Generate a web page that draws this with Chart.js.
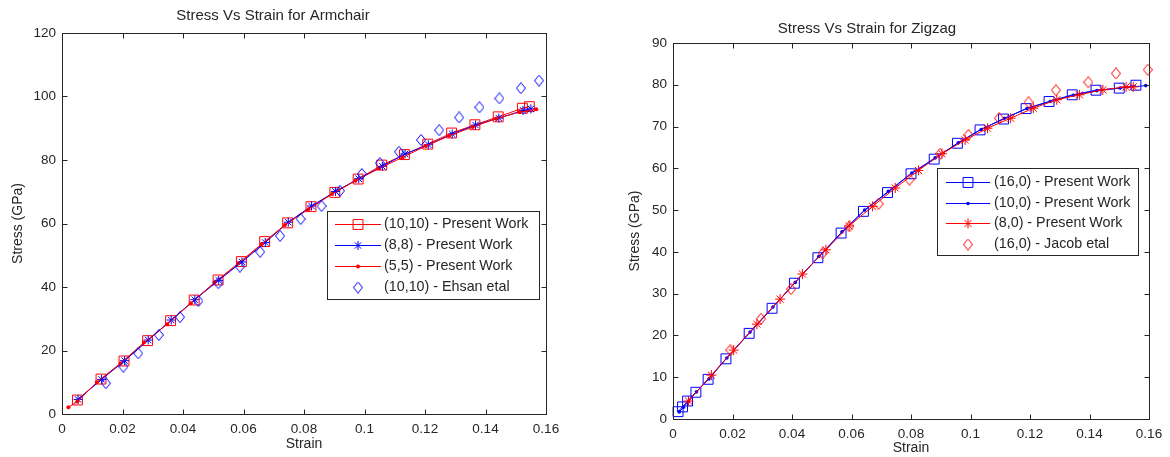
<!DOCTYPE html>
<html>
<head>
<meta charset="utf-8">
<script src="https://cdn.jsdelivr.net/npm/chart.js@4.4.1/dist/chart.umd.min.js"></script>
<style>
  body { margin: 0; background: #fff; }
  canvas { position: absolute; top: 0; }
  #armchair { left: 0; }
  #zigzag { left: 585px; }
</style>
</head>
<body>
<canvas id="armchair" width="585" height="457"></canvas>
<canvas id="zigzag" width="585" height="457"></canvas>
<script>
// axis ticks
const strainTicks = [0, 0.02, 0.04, 0.06, 0.08, 0.1, 0.12, 0.14, 0.16];
const armchairStressTicks = [0, 20, 40, 60, 80, 100, 120];
const zigzagStressTicks = [0, 10, 20, 30, 40, 50, 60, 70, 80, 90];

// Armchair tubes
const ac1010Strain = [0.0051, 0.0129, 0.0205, 0.0283, 0.0359, 0.0437, 0.0516, 0.0593, 0.0670, 0.0746, 0.0823, 0.0902, 0.0979, 0.1057, 0.1132, 0.1209, 0.1288, 0.1365, 0.1442, 0.1522, 0.1545];
const ac1010Stress = [4.4, 11.0, 16.7, 23.1, 29.4, 35.9, 42.2, 48.0, 54.3, 60.2, 65.3, 69.8, 74.0, 78.4, 81.7, 85.0, 88.5, 91.1, 93.6, 96.3, 96.8];

const ac88Strain = [0.0053, 0.0131, 0.0207, 0.0285, 0.0361, 0.0439, 0.0518, 0.0595, 0.0672, 0.0748, 0.0825, 0.0904, 0.0981, 0.1059, 0.1134, 0.1211, 0.1290, 0.1367, 0.1444, 0.1524, 0.1550];
const ac88Stress = [4.6, 10.9, 16.8, 23.3, 29.6, 36.0, 42.1, 47.9, 54.0, 60.4, 65.5, 70.1, 74.1, 78.0, 81.9, 84.8, 88.2, 91.0, 93.2, 95.6, 96.1];

const ac55Strain = [0.0021, 0.0051, 0.0115, 0.0194, 0.0271, 0.0348, 0.0426, 0.0504, 0.0583, 0.0660, 0.0737, 0.0815, 0.0893, 0.0970, 0.1048, 0.1125, 0.1203, 0.1280, 0.1358, 0.1435, 0.1513, 0.1568];
const ac55Stress = [2.1, 3.9, 10.0, 16.0, 22.5, 28.3, 34.9, 41.4, 47.5, 53.5, 59.5, 64.5, 69.3, 73.5, 77.3, 80.8, 84.4, 87.6, 90.4, 93.0, 95.1, 96.0];

const ehsanStrain = [0.0145, 0.0203, 0.0252, 0.0320, 0.0390, 0.0451, 0.0517, 0.0588, 0.0655, 0.0721, 0.0789, 0.0858, 0.0919, 0.0991, 0.1051, 0.1114, 0.1187, 0.1247, 0.1313, 0.1380, 0.1446, 0.1517, 0.1577];
const ehsanStress = [9.7, 14.9, 19.1, 24.9, 30.5, 35.6, 41.2, 46.4, 51.1, 56.1, 61.4, 65.5, 70.3, 75.6, 79.0, 82.6, 86.3, 89.4, 93.4, 96.6, 99.4, 102.6, 105.0];

// Zigzag tubes
const zz160Strain = [0.0017, 0.0032, 0.0049, 0.0077, 0.0118, 0.0178, 0.0256, 0.0333, 0.0408, 0.0487, 0.0565, 0.0640, 0.0721, 0.0800, 0.0878, 0.0956, 0.1032, 0.1111, 0.1187, 0.1264, 0.1342, 0.1422, 0.1500, 0.1556];
const zz160Stress = [1.75, 2.9, 4.3, 6.4, 9.5, 14.4, 20.5, 26.5, 32.5, 38.6, 44.5, 49.7, 54.2, 58.7, 62.2, 66.0, 69.2, 71.8, 74.3, 76.0, 77.6, 78.7, 79.2, 79.9];

const zz100Strain = [0.0021, 0.0035, 0.0052, 0.0079, 0.0121, 0.0181, 0.0259, 0.0336, 0.0411, 0.0490, 0.0568, 0.0644, 0.0724, 0.0803, 0.0881, 0.0959, 0.1036, 0.1114, 0.1190, 0.1268, 0.1346, 0.1425, 0.1503, 0.1589];
const zz100Stress = [1.7, 2.8, 4.2, 6.5, 9.6, 14.6, 20.8, 26.8, 32.7, 38.9, 44.8, 50.0, 54.5, 58.9, 62.5, 66.1, 69.3, 72.0, 74.3, 76.0, 77.5, 78.6, 79.2, 79.8];

const zz80Strain = [0.0052, 0.0129, 0.0204, 0.0282, 0.0360, 0.0435, 0.0514, 0.0592, 0.0671, 0.0747, 0.0825, 0.0904, 0.0982, 0.1057, 0.1135, 0.1211, 0.1290, 0.1366, 0.1445, 0.1523, 0.1547];
const zz80Stress = [4.3, 10.5, 16.5, 22.7, 28.7, 34.7, 40.5, 46.2, 50.9, 55.3, 59.5, 63.5, 66.8, 69.6, 72.0, 74.4, 76.4, 77.6, 78.8, 79.5, 79.5];

const jacobStrain = [0.0193, 0.0296, 0.0397, 0.0503, 0.0593, 0.0691, 0.0795, 0.0898, 0.0993, 0.1096, 0.1195, 0.1287, 0.1396, 0.1489, 0.1596];
const jacobStress = [16.5, 24.0, 31.1, 39.7, 46.1, 51.5, 57.3, 63.5, 68.0, 72.0, 75.8, 78.7, 80.6, 82.7, 83.6];

const RED = '#ff0000';
const BLUE = '#0000ff';
const INK = '#262626';
const FONT = '"Liberation Sans", Arial, sans-serif';

function pts(xs, ys) {
  return xs.map((x, i) => ({ x: x, y: ys[i] }));
}

// hollow diamond, taller than wide
function diamond(color) {
  const c = document.createElement('canvas');
  c.width = 10; c.height = 12;
  const g = c.getContext('2d');
  g.strokeStyle = color;
  g.lineWidth = 1;
  g.beginPath();
  g.moveTo(5, 0.5); g.lineTo(9.5, 6); g.lineTo(5, 11.5); g.lineTo(0.5, 6);
  g.closePath();
  g.stroke();
  return c;
}

function series(label, xs, ys, color, marker, size, withLine) {
  const ds = {
    label: label,
    data: pts(xs, ys),
    showLine: withLine,
    borderColor: color,
    borderWidth: 1,
    pointBorderColor: color,
    pointBorderWidth: 1,
    pointBackgroundColor: 'rgba(0,0,0,0)',
    pointStyle: marker,
    pointRadius: size,
    pointHoverRadius: 0,
    clip: false
  };
  if (marker === 'circle') { ds.pointBackgroundColor = color; ds.pointBorderWidth = 0; }
  if (marker === 'diamond') { ds.pointStyle = diamond(color); }
  return ds;
}

// box with inward ticks on all four sides
const frame = {
  id: 'frame',
  afterDraw(chart) {
    const ctx = chart.ctx;
    const a = chart.chartArea;
    const xs = chart.scales.x, ys = chart.scales.y;
    const L = Math.round(a.left) + 0.5, R = Math.round(a.right) + 0.5;
    const T = Math.round(a.top) + 0.5, B = Math.round(a.bottom) + 0.5;
    ctx.save();
    ctx.strokeStyle = INK;
    ctx.lineWidth = 1;
    ctx.strokeRect(L, T, R - L, B - T);
    ctx.beginPath();
    xs.ticks.forEach(t => {
      const px = Math.round(xs.getPixelForValue(t.value)) + 0.5;
      ctx.moveTo(px, B); ctx.lineTo(px, B - 5);
      ctx.moveTo(px, T); ctx.lineTo(px, T + 5);
    });
    ys.ticks.forEach(t => {
      const py = Math.round(ys.getPixelForValue(t.value)) + 0.5;
      ctx.moveTo(L, py); ctx.lineTo(L + 5, py);
      ctx.moveTo(R, py); ctx.lineTo(R - 5, py);
    });
    ctx.stroke();
    ctx.restore();
  }
};

// legend box drawn inside the axes
const boxLegend = {
  id: 'boxLegend',
  afterDraw(chart, args, o) {
    const ctx = chart.ctx;
    ctx.save();
    ctx.fillStyle = '#fff';
    ctx.fillRect(o.x, o.y, o.w, o.h);
    ctx.strokeStyle = INK;
    ctx.lineWidth = 1;
    ctx.strokeRect(o.x + 0.5, o.y + 0.5, o.w, o.h);
    ctx.font = '14.3px ' + FONT;
    ctx.textBaseline = 'middle';
    chart.data.datasets.forEach((ds, i) => {
      const cy = Math.round(o.y + o.first + i * o.step) + 0.5;
      const mid = (o.lineFrom + o.lineTo) / 2;
      if (ds.showLine) {
        ctx.strokeStyle = ds.borderColor;
        ctx.beginPath();
        ctx.moveTo(o.lineFrom, cy); ctx.lineTo(o.lineTo, cy);
        ctx.stroke();
      }
      ctx.strokeStyle = ds.pointBorderColor;
      ctx.fillStyle = ds.pointBackgroundColor;
      Chart.helpers.drawPoint(ctx, {
        pointStyle: ds.pointStyle,
        radius: ds.pointRadius,
        borderWidth: ds.pointBorderWidth,
        rotation: 0
      }, mid, cy);
      ctx.fillStyle = INK;
      ctx.fillText(ds.label, o.textX, cy);
    });
    ctx.restore();
  }
};

function makeChart(id, cfg) {
  return new Chart(document.getElementById(id), {
    type: 'scatter',
    data: { datasets: cfg.datasets.map((d, i, all) => Object.assign(d, { order: all.length - i })) },
    options: {
      responsive: false,
      animation: false,
      devicePixelRatio: 1,
      layout: { padding: { left: 0, top: 0, right: cfg.padRight, bottom: 0 } },
      plugins: {
        legend: { display: false },
        tooltip: { enabled: false },
        title: {
          display: true,
          text: cfg.title,
          color: INK,
          font: { family: FONT, size: 15, weight: 'normal' },
          padding: cfg.titlePad
        },
        boxLegend: cfg.legend
      },
      scales: {
        x: {
          type: 'linear',
          min: 0, max: 0.16,
          afterBuildTicks: s => { s.ticks = strainTicks.map(v => ({ value: v })); },
          afterFit: s => { s.height = cfg.xHeight; },
          grid: { display: false, drawTicks: false },
          border: { display: false },
          ticks: { color: INK, padding: 7, font: { family: FONT, size: 13.5 }, maxRotation: 0,
                   callback: v => String(+v.toFixed(2)) },
          title: { display: true, text: 'Strain', color: INK, font: { family: FONT, size: 14 },
                   padding: cfg.xTitlePad }
        },
        y: {
          type: 'linear',
          min: 0, max: cfg.yMax,
          afterBuildTicks: s => { s.ticks = cfg.yTicks.map(v => ({ value: v })); },
          afterFit: s => { s.width = cfg.yWidth; },
          grid: { display: false, drawTicks: false },
          border: { display: false },
          ticks: { color: INK, padding: 6, font: { family: FONT, size: 13.5 } },
          title: { display: true, text: 'Stress (GPa)', color: INK, font: { family: FONT, size: 14 },
                   padding: cfg.yTitlePad }
        }
      }
    },
    plugins: [frame, boxLegend]
  });
}

makeChart('armchair', {
  title: 'Stress Vs Strain for Armchair',
  titlePad: { top: 7, bottom: 8 },
  padRight: 39,
  xHeight: 43,
  yWidth: 62,
  yMax: 120,
  yTicks: armchairStressTicks,
  xTitlePad: { top: 4, bottom: 4 },
  yTitlePad: { top: 10, bottom: 10 },
  legend: { x: 327, y: 211, w: 212, h: 88, first: 13, step: 21, lineFrom: 335, lineTo: 381, textX: 384 },
  datasets: [
    series('(10,10) - Present Work', ac1010Strain, ac1010Stress, RED, 'rect', 7, true),
    series('(8,8) - Present Work', ac88Strain, ac88Stress, BLUE, 'star', 4.5, true),
    series('(5,5) - Present Work', ac55Strain, ac55Stress, RED, 'circle', 2, true),
    series('(10,10) - Ehsan etal', ehsanStrain, ehsanStress, BLUE, 'diamond', 6, false)
  ]
});

makeChart('zigzag', {
  title: 'Stress Vs Strain for Zigzag',
  titlePad: { top: 20, bottom: 5 },
  padRight: 21,
  xHeight: 38,
  yWidth: 88,
  yMax: 90,
  yTicks: zigzagStressTicks,
  xTitlePad: { top: 0, bottom: 0 },
  yTitlePad: { top: 42, bottom: 42 },
  legend: { x: 352, y: 168, w: 201, h: 87, first: 14, step: 20.5, lineFrom: 361, lineTo: 405, textX: 409 },
  datasets: [
    series('(16,0) - Present Work', zz160Strain, zz160Stress, BLUE, 'rect', 7, true),
    series('(10,0) - Present Work', zz100Strain, zz100Stress, BLUE, 'circle', 1.8, true),
    series('(8,0) - Present Work', zz80Strain, zz80Stress, RED, 'star', 5, true),
    series('(16,0) - Jacob etal', jacobStrain, jacobStress, RED, 'diamond', 6, false)
  ]
});
</script>
</body>
</html>
